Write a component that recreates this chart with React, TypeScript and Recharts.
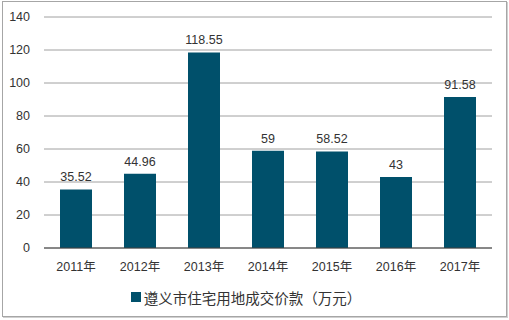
import { BarChart, Bar, XAxis, YAxis, CartesianGrid, Legend, LabelList } from 'recharts'

const years = ['2011年', '2012年', '2013年', '2014年', '2015年', '2016年', '2017年']
const values = [35.52, 44.96, 118.55, 59, 58.52, 43, 91.58]
const yTicks = [0, 20, 40, 60, 80, 100, 120, 140]
const seriesName = '遵义市住宅用地成交价款（万元）'

const data = years.map((year, i) => ({ year, value: values[i] }))

const font = 'Arial, "Liberation Sans", "Noto Sans CJK SC", sans-serif'
const barColor = '#00506b'

function LegendContent() {
  return (
    <div style={{ display: 'flex', alignItems: 'center', justifyContent: 'center', fontFamily: font, fontSize: 14.5, color: '#333', height: 18 }}>
      <span style={{ width: 10, height: 10, background: barColor, display: 'inline-block', marginRight: 3 }} />
      <span>{seriesName}</span>
    </div>
  )
}

export default function App() {
  return (
    <div style={{ position: 'absolute', left: 0, top: 0, width: 509, height: 320, background: '#fff' }}>
      <div
        style={{
          position: 'absolute',
          left: 2,
          top: 1,
          width: 503,
          height: 314,
          border: '1px solid #a6a6a6',
          boxShadow: '1px 1px 0 #d0d0d0',
        }}
      />
      <BarChart
        width={509}
        height={320}
        data={data}
        margin={{ top: 17, right: 17, bottom: 0, left: 0 }}
        barCategoryGap="25%"
        style={{ position: 'absolute', left: 0, top: 0 }}
      >
        <CartesianGrid vertical={false} stroke="#a0a0a0" />
        <XAxis
          dataKey="year"
          height={30}
          tickLine={false}
          axisLine={{ stroke: '#404040' }}
          tick={{ fill: '#333', fontSize: 12.5, fontFamily: font }}
          tickMargin={8}
        />
        <YAxis
          width={44}
          domain={[0, 140]}
          ticks={yTicks}
          axisLine={false}
          tickLine={false}
          tick={{ fill: '#333', fontSize: 12.5, fontFamily: font }}
          tickMargin={8}
        />
        <Legend
          verticalAlign="bottom"
          content={<LegendContent />}
          wrapperStyle={{ height: 42, paddingTop: 10, boxSizing: 'border-box' }}
        />
        <Bar dataKey="value" name={seriesName} fill={barColor} isAnimationActive={false}>
          <LabelList
            dataKey="value"
            position="top"
            offset={8}
            style={{ fill: '#333', fontSize: 12.5, fontFamily: font }}
          />
        </Bar>
      </BarChart>
    </div>
  )
}
